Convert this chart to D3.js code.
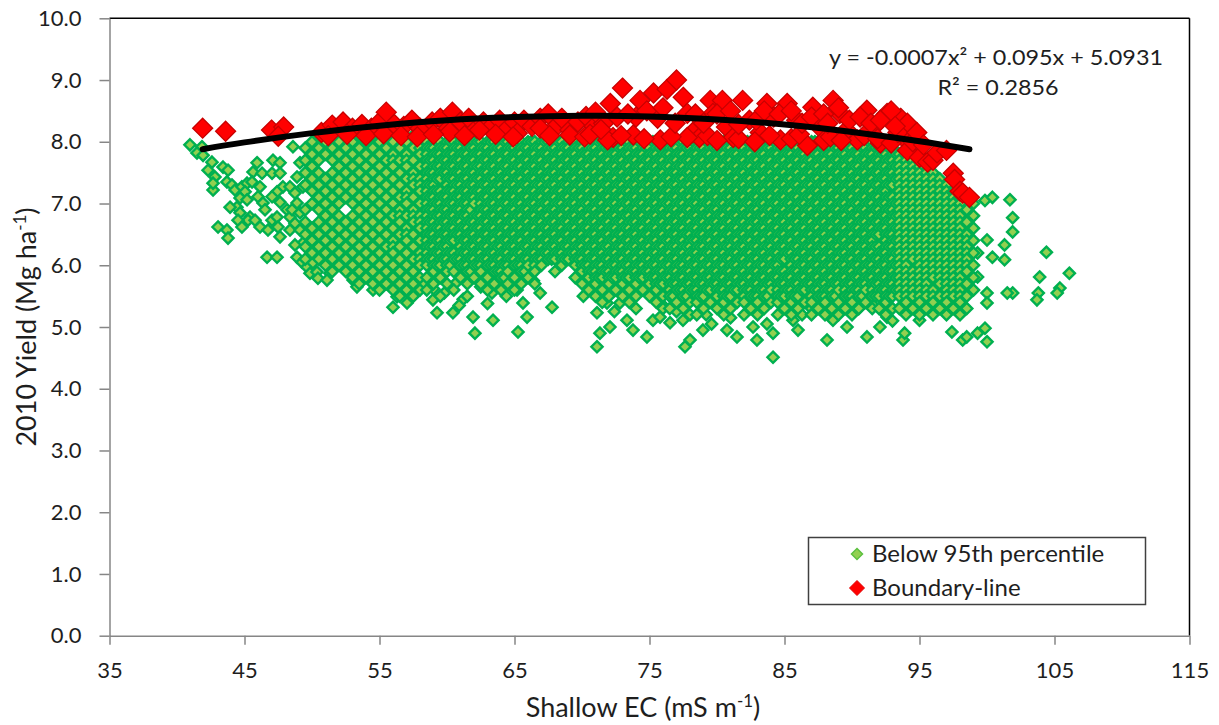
<!DOCTYPE html>
<html><head><meta charset="utf-8">
<script src="https://cdn.jsdelivr.net/npm/d3@7"></script>
<style>
body{margin:0;background:#fff}
svg{display:block}
text{font-family:Lato,"Open Sans",sans-serif;fill:#1e1e1e}
</style>
</head><body>
<svg id="chart" width="1219" height="725"></svg>
<script>
// ---------------- data ----------------
const xTicks = [35, 45, 55, 65, 75, 85, 95, 105, 115];
const yTicks = [0, 1, 2, 3, 4, 5, 6, 7, 8, 9, 10];

// "Below 95th percentile": isolated points [x, y]
const belowExtra = [
[40.96,7.95],[41.85,7.92],[41.48,7.82],[41.93,7.78],[42.59,7.67],[42.30,7.54],[42.81,7.43],[42.67,7.22],[42.67,7.33],[43.41,7.59],
[43.78,7.54],[43.70,7.35],[44.07,7.30],[44.30,7.22],[44.81,7.27],[45.19,7.33],[45.04,7.19],[44.67,7.09],[45.19,7.06],[44.44,6.94],
[43.93,6.94],[44.67,6.85],[45.41,6.78],[45.26,6.73],[44.52,6.73],[43.04,6.62],[43.70,6.57],[43.78,6.44],[44.81,6.62],[45.93,7.66],
[45.63,7.51],[46.30,7.49],[45.56,7.35],[46.15,7.27],[46.00,7.11],[46.37,7.01],[46.52,6.90],[45.78,6.73],[46.15,6.62],[46.74,6.57],
[47.04,6.73],[46.67,6.13],[47.41,6.13],[47.11,7.70],[47.63,7.66],[47.04,7.49],[47.63,7.49],[47.85,7.27],[47.41,7.19],[47.04,7.11],
[47.63,7.02],[48.15,6.90],[47.41,6.78],[48.37,6.78],[47.48,6.62],[48.37,6.57],[47.63,6.46],[48.59,7.92],[49.11,7.66],[48.89,7.43],
[48.37,7.27],[48.74,7.17],[49.33,7.27],[48.89,7.01],[48.52,6.90],[49.11,6.85],[48.74,6.68],[49.11,6.57],[49.63,6.46],[49.33,6.36],
[48.74,6.33],[48.89,6.13],[49.26,6.05],[49.63,5.97],[50.07,6.04],[49.85,5.87],[50.37,5.89],[50.44,5.79],[51.33,5.87],[51.11,5.76],
[53.04,5.76],[53.33,5.65],[54.52,5.60],[56.30,5.49],[57.04,5.39],[56.00,5.32],[58.96,5.44],[59.26,5.23],[60.44,5.23],[61.93,5.16],
[62.07,4.90],[63.33,5.55],[63.41,5.11],[65.19,5.60],[65.63,5.39],[65.93,5.16],[65.26,4.92],[67.78,5.32],[71.11,5.23],[71.33,4.90],
[71.11,4.68],[71.85,5.39],[72.81,5.39],[72.07,5.00],[73.33,5.11],[73.78,4.95],[74.81,4.84],[75.26,5.11],[75.78,5.16],
[76.52,5.07],[77.48,5.11],[78.00,4.79],[77.63,4.68],[78.96,4.95],[80.74,4.95],[81.48,4.84],[82.67,5.00],[82.96,4.79],[84.15,4.90],
[84.15,4.51],[85.63,5.11],[88.15,4.79],[88.59,5.11],[89.63,5.00],[91.11,4.84],[92.07,5.00],[92.59,5.16],[93.78,4.79],[93.55,5.32],
[93.90,4.90],[95.00,5.11],[96.00,5.32],[97.40,4.92],[98.20,4.79],[98.50,4.84],[99.30,4.90],[99.85,4.98],[100.00,4.76],
[58.30,5.70],[59.00,5.62],[59.80,5.55],[60.60,5.70],[61.20,5.45],[62.50,5.65],[63.00,5.38],[63.90,5.72],[64.40,5.50],[66.40,5.75],
[66.90,5.55],[60.90,5.35],[70.10,5.50],[72.40,5.25],[74.00,5.30],[76.00,5.35],[77.00,5.25],[79.20,5.20],[80.20,5.30],[81.00,5.15],
[83.00,5.25],[84.80,5.35],[86.30,5.20],[87.00,5.30],[89.00,5.20],[90.50,5.30],[91.60,5.35],[93.00,5.10],[86.00,4.95],[79.60,5.05],[83.70,5.05],
[99.85,7.05],[100.40,7.10],[101.70,7.06],[101.90,6.77],[101.90,6.54],[101.30,6.33],[101.30,6.09],[100.40,6.13],[100.00,6.41],[99.30,6.20],
[104.40,6.21],[103.90,5.81],[106.10,5.87],[105.40,5.63],[105.20,5.55],[103.80,5.55],[103.70,5.44],[101.90,5.55],[101.50,5.55],[100.00,5.55],
[100.00,5.39],[99.30,5.81]
];

// "Below 95th percentile": dense columns, "x|y values in tenths"
const belowColumns = [
"49.5|79 77 75 73 69 67 65 63 61",
"50|80 78 76 74 72 70 66 64 62",
"50.5|81 79 77 75 73 71 69 67 65 63 61",
"51|80 78 74 72 70 68 66 64 62 60",
"51.5|81 79 77 75 73 71 69 67 65 63 61 59",
"52|80 78 76 74 72 70 68 66 64 62 60",
"52.5|81 79 77 75 73 71 67 65 63 61 59",
"53|80 78 76 74 72 70 68 66 64 62 60 58",
"53.5|81 79 77 75 73 71 69 67 65 63 61 59 57",
"54|80 78 76 74 72 70 68 66 64 62 60 58",
"54.5|81 79 77 75 73 71 69 67 65 63 61 59 57",
"55|80 78 76 74 72 70 68 66 64 62 60 58 56",
"55.5|81 79 77 75 73 71 69 67 65 63 61 59 57",
"56|80 78 77 76 74 72 70 68 66 64 63 62 60 58 56",
"56.5|81 79 77 75 73 71 69 68 67 65 63 61 59 57 55",
"57|80 78 77 76 74 72 71 70 68 66 65 64 62 60 58 56",
"57.5|81 79 77 75 74 73 71 69 68 67 65 63 61 59 57 55",
"58|80 79 78 76 74 73 72 70 68 67 66 64 62 61 60 58 56",
"58.5|80 79 78 77 76 75 74 73 72 71 70 69 68 67 66 65 64 63 62 61 60 58 56",
"58.75|79 77 75 73 71 69 67 65 63 61",
"59|80 79 78 77 76 75 74 73 72 71 70 69 68 67 66 65 64 63 62 61 60 59 57",
"59.25|80 78 76 74 72 70 68 66 64 62 60",
"59.5|80 79 78 77 76 75 74 72 71 70 69 68 67 66 65 64 63 62 61 60 58 55",
"59.75|79 77 75 71 69 67 65 63 61",
"60|80 79 78 77 76 75 74 73 72 71 70 69 68 67 66 65 64 63 62 61 60 59 57",
"60.25|80 78 76 74 72 70 68 66 64 62 60",
"60.5|80 79 78 77 76 75 74 73 72 71 70 69 68 67 66 65 64 62 61 59 56",
"60.75|79 77 75 73 71 69 67 65 61",
"61|80 79 78 77 76 75 74 73 72 71 70 69 68 67 66 65 64 63 62 61 60 58",
"61.25|80 78 76 74 72 70 68 66 64 62 60",
"61.5|80 79 78 77 76 75 74 73 72 71 70 69 68 67 66 65 64 63 62 61 60 59 57 55",
"61.75|79 77 75 73 71 69 67 65 63 61 59",
"62|80 79 78 77 76 75 74 73 72 71 70 68 67 66 65 64 63 62 61 60 58",
"62.25|80 78 76 74 72 68 66 64 62 60",
"62.5|80 79 78 77 76 75 74 73 72 71 70 69 68 67 66 65 64 63 62 61 60 59 57",
"62.75|79 77 75 73 71 69 67 65 63 61",
"63|80 79 78 77 76 75 74 73 72 71 70 69 68 67 66 65 64 63 62 61 60 58 56",
"63.25|80 78 76 74 72 70 68 66 64 62 60",
"63.5|80 79 78 77 76 75 74 73 72 71 70 69 68 67 66 65 64 63 62 61 60 59 57",
"63.75|79 77 75 73 71 69 67 65 63 61 59",
"64|80 79 78 77 76 75 74 73 72 71 70 69 68 67 66 65 64 63 62 61 60 59 58 56",
"64.25|80 78 76 74 72 70 68 66 64 62 60 58",
"64.5|80 79 78 77 76 75 74 73 72 71 70 69 68 67 66 65 64 63 62 61 60 59 57",
"64.75|79 77 75 73 71 69 67 65 63 61",
"65|80 79 78 77 76 75 74 73 72 71 70 69 68 67 66 65 64 63 62 61 60 58 56",
"65.25|80 78 76 74 72 70 68 66 64 62 60",
"65.5|80 79 78 77 76 75 74 73 72 71 70 69 68 67 66 65 64 63 62 61 60 59 57",
"65.75|79 77 75 73 71 69 67 65 63 61 59",
"66|80 79 78 77 76 75 74 73 72 71 70 69 68 67 66 65 64 63 62 61 60 58",
"66.25|80 78 76 74 72 70 68 66 64 62",
"66.5|80 79 78 77 76 75 74 73 72 71 70 69 68 67 66 65 64 63 62 61 60 59 57",
"66.75|79 77 75 73 71 69 67 65 63 61",
"67|80 79 78 77 76 75 74 73 72 71 70 69 68 67 66 65 64 63 62 61 60",
"67.25|80 78 76 74 72 70 68 66 64 62",
"67.5|80 79 78 77 76 75 74 73 72 71 70 69 68 67 66 65 64 63 62 61",
"67.75|79 77 75 73 71 69 67 65 63 61",
"68|80 79 78 77 76 75 74 73 72 71 70 69 68 67 66 65 64 63 62 61 59",
"68.25|80 78 76 74 72 70 68 66 64 62",
"68.5|80 79 78 77 76 75 74 73 72 71 70 69 68 67 66 65 64 63 62 61 60",
"68.75|79 77 75 73 71 69 67 65 63 61",
"69|80 79 78 77 76 75 74 73 72 71 70 69 68 67 66 65 64 63 62 61",
"69.25|80 78 76 74 72 70 68 66 64 62",
"69.5|80 79 78 77 76 75 74 73 72 71 70 69 68 67 66 65 64 63 62 61 60 58",
"69.75|79 77 75 73 71 69 67 65 63 61",
"70|80 79 78 77 76 75 74 73 72 71 70 69 68 67 66 65 64 63 62 61 60 59 57",
"70.25|80 78 76 74 72 70 68 66 64 62 60",
"70.5|80 79 78 77 76 75 74 73 72 71 70 69 68 67 66 65 64 63 62 61 60 59 58 56",
"70.75|79 77 75 73 71 69 67 65 63 61 59",
"71|80 79 78 77 76 75 74 73 72 71 70 69 68 67 66 65 64 63 62 61 60 59 58 57 55",
"71.25|80 78 76 74 72 70 68 66 64 62 60 58",
"71.5|80 79 78 77 76 75 74 73 72 71 70 69 68 67 66 65 64 63 62 61 60 59 58 56 54",
"71.75|79 77 75 73 71 69 67 65 63 61 59",
"72|80 79 78 77 76 75 74 73 72 71 70 69 68 67 66 65 64 63 62 61 60 59 58 57 55",
"72.25|80 78 76 74 72 70 68 66 64 62 60 58",
"72.5|80 79 78 77 76 75 74 73 72 71 70 69 68 67 66 65 64 63 62 61 60 59 58 56",
"72.75|79 77 75 73 71 69 67 65 63 61 59",
"73|80 79 78 77 76 75 74 73 72 71 70 69 68 67 66 65 64 63 62 61 60 59 58 57 55",
"73.25|80 78 76 74 72 70 68 66 64 62 60 58",
"73.5|80 79 78 77 76 75 74 73 72 71 70 69 68 67 66 65 64 63 62 61 60 59 58 56 54",
"73.75|79 77 75 73 71 69 67 65 63 61 59",
"74|80 79 78 77 76 75 74 73 72 71 70 69 68 67 66 65 64 63 62 61 60 59 58 57 55",
"74.25|80 78 76 74 72 70 68 66 64 62 60 58",
"74.5|80 79 78 77 76 75 74 73 72 71 70 69 68 67 66 65 64 63 62 61 60 59 58 56",
"74.75|79 77 75 73 71 69 67 65 63 61 59",
"75|80 79 78 77 76 75 74 73 72 71 70 69 68 67 66 65 64 63 62 61 60 59 58 57 55",
"75.25|80 78 76 74 72 70 68 66 64 62 60 58",
"75.5|80 79 78 77 76 75 74 73 72 71 70 69 68 67 66 65 64 63 62 61 60 59 58 57 56 54",
"75.75|79 77 75 73 71 69 67 65 63 61 59 57",
"76|80 79 78 77 76 75 74 73 72 71 70 69 68 67 66 65 64 63 62 61 60 59 58 57 55 53",
"76.25|80 78 76 74 72 70 68 66 64 62 60 58",
"76.5|80 79 78 77 76 75 74 73 72 71 70 69 68 67 66 65 64 63 62 61 60 59 58 57 56 55 53",
"76.75|79 77 75 73 71 69 67 65 63 61 59 57 55",
"77|80 79 78 77 76 75 74 73 72 71 70 69 68 67 66 65 64 63 62 61 60 59 58 57 56 54",
"77.25|80 78 76 74 72 70 68 66 64 62 60 58 56",
"77.5|80 79 78 77 76 75 74 73 72 71 70 69 68 67 66 65 64 63 62 61 60 59 58 57 56 55 53",
"77.75|79 77 75 73 71 69 67 65 63 61 59 57 55",
"78|80 79 78 77 76 75 74 73 72 71 70 69 68 67 66 65 64 63 62 61 60 59 58 57 56 54 52",
"78.25|80 78 76 74 72 70 68 66 64 62 60 58 56",
"78.5|80 79 78 77 76 75 74 73 72 71 70 69 68 67 66 65 64 63 62 61 60 59 58 57 56 55 54 52",
"78.75|79 77 75 73 71 69 67 65 63 61 59 57 55",
"79|80 79 78 77 76 75 74 73 72 71 70 69 68 67 66 65 64 63 62 61 60 59 58 57 56 55 53",
"79.25|80 78 76 74 72 70 68 66 64 62 60 58 56",
"79.5|80 79 78 77 76 75 74 73 72 71 70 69 68 67 66 65 64 63 62 61 60 59 58 57 56 54",
"79.75|79 77 75 73 71 69 67 65 63 61 59 57",
"80|80 79 78 77 76 75 74 73 72 71 70 69 68 67 66 65 64 63 62 61 60 59 58 57 56 55 53",
"80.25|80 78 76 74 72 70 68 66 64 62 60 58 56",
"80.5|80 79 78 77 76 75 74 73 72 71 70 69 68 67 66 65 64 63 62 61 60 59 58 57 56 55 54 52",
"80.75|79 77 75 73 71 69 67 65 63 61 59 57 55",
"81|80 79 78 77 76 75 74 73 72 71 70 69 68 67 66 65 64 63 62 61 60 59 58 57 56 55 53",
"81.25|80 78 76 74 72 70 68 66 64 62 60 58 56",
"81.5|80 79 78 77 76 75 74 73 72 71 70 69 68 67 66 65 64 63 62 61 60 59 58 57 56 54",
"81.75|79 77 75 73 71 69 67 65 63 61 59 57",
"82|80 79 78 77 76 75 74 73 72 71 70 69 68 67 66 65 64 63 62 61 60 59 58 57 56 55 54 52",
"82.25|80 78 76 74 72 70 68 66 64 62 60 58 56",
"82.5|80 79 78 77 76 75 74 73 72 71 70 69 68 67 66 65 64 63 62 61 60 59 58 57 56 55 53",
"82.75|79 77 75 73 71 69 67 65 63 61 59 57 55",
"83|80 79 78 77 76 75 74 73 72 71 70 69 68 67 66 65 64 63 62 61 60 59 58 57 56 55 54 52",
"83.25|80 78 76 74 72 70 68 66 64 62 60 58 56",
"83.5|80 79 78 77 76 75 74 73 72 71 70 69 68 67 66 65 64 63 62 61 60 59 58 57 56 55 53",
"83.75|79 77 75 73 71 69 67 65 63 61 59 57 55",
"84|80 79 78 77 76 75 74 73 72 71 70 69 68 67 66 65 64 63 62 61 60 59 58 57 56 54",
"84.25|80 78 76 74 72 70 68 66 64 62 60 58",
"84.5|80 79 78 77 76 75 74 73 72 71 70 69 68 67 66 65 64 63 62 61 60 59 58 57 56 55 54 52",
"84.75|79 77 75 73 71 69 67 65 63 61 59 57 55",
"85|80 79 78 77 76 75 74 73 72 71 70 69 68 67 66 65 64 63 62 61 59 58 57 56 55 53",
"85.25|80 78 76 74 72 70 68 66 64 62 58 56",
"85.5|80 79 78 77 76 75 74 73 72 71 70 69 68 67 66 65 64 63 62 61 60 59 58 57 56 55 54 52",
"85.75|79 77 75 73 71 69 67 65 63 61 59 57 55",
"86|80 79 78 77 76 75 74 73 72 71 70 69 68 67 66 65 64 63 62 61 60 59 58 57 56 55 53",
"86.25|80 78 76 74 72 70 68 66 64 62 60 58 56",
"86.5|80 79 78 77 76 75 74 73 72 71 70 69 68 67 66 65 64 63 62 61 60 59 58 57 56 54",
"86.75|79 77 75 73 71 69 67 65 63 61 59 57",
"87|80 79 78 77 76 75 74 73 72 71 70 69 68 67 66 65 64 63 62 61 60 59 58 57 56 55 54 52",
"87.25|80 78 76 74 72 70 68 66 64 62 60 58 56",
"87.5|80 79 78 77 76 75 74 73 72 71 70 69 68 67 66 65 64 63 62 61 60 59 58 57 56 55 53",
"87.75|79 77 75 73 71 69 67 65 63 61 59 57 55",
"88|80 79 78 77 76 75 74 73 72 71 70 69 68 67 66 65 64 63 62 61 60 59 58 57 56 55 54 52",
"88.25|80 78 76 74 72 70 68 66 64 62 60 58 56",
"88.5|80 79 78 77 76 75 74 73 72 71 70 69 68 67 66 65 64 63 62 61 60 59 58 57 56 55 53",
"88.75|79 77 75 73 71 69 67 65 63 61 59 57 55",
"89|80 79 78 77 76 75 74 73 72 71 70 69 68 67 66 65 64 63 62 61 60 59 58 57 56 54",
"89.25|80 78 76 74 72 70 68 66 64 62 60 58",
"89.5|80 79 78 77 76 75 74 73 72 71 70 69 68 67 66 65 64 63 62 61 60 59 58 57 56 55 53",
"89.75|79 77 75 73 71 69 67 65 63 61 59 57 55",
"90|80 79 78 77 76 75 74 73 72 71 70 69 68 67 66 65 64 63 62 61 60 59 58 57 56 55 54 52",
"90.25|80 78 76 74 72 70 68 66 64 62 60 58 56",
"90.5|80 79 78 77 76 75 74 73 72 71 70 69 68 67 66 65 64 63 62 61 60 59 58 57 56 55 53",
"90.75|79 77 75 73 71 69 67 65 63 61 59 57 55",
"91|80 79 78 77 76 75 74 73 72 71 70 69 68 67 66 65 64 63 62 61 60 59 58 57 56 54",
"91.25|80 78 76 74 72 70 68 66 64 62 60 58",
"91.5|80 79 78 77 76 75 74 73 72 71 70 69 68 67 66 65 64 63 62 61 60 59 58 57 56 55 53",
"91.75|79 77 75 73 71 69 67 65 63 61 59 57 55",
"92|80 79 78 77 76 75 74 73 72 71 70 69 68 67 66 65 63 62 61 60 59 58 57 56 55 53",
"92.25|80 78 76 74 72 70 68 66 62 60 58 56",
"92.5|80 79 78 77 76 75 74 73 72 71 70 69 68 67 66 65 64 63 62 61 60 59 58 57 56 55 54 52",
"92.75|79 77 75 73 71 69 67 65 63 61 59 57 55",
"93|79 78 77 76 75 74 73 71 70 69 68 67 66 65 64 63 62 61 60 59 58 57 56 55 53",
"93.25|78 76 74 70 68 66 64 62 60 58 56",
"93.5|78 77 76 75 74 73 72 71 70 69 68 67 66 65 64 63 62 61 60 59 58 57 56 55 53",
"94|77 76 75 74 73 72 71 70 69 68 67 66 65 64 63 62 61 60 59 58 57 56 55 54 52",
"94.5|77 76 75 74 73 72 71 70 69 68 67 66 65 64 63 62 61 59 58 57 56 55 53",
"95|76 75 74 73 72 71 70 69 68 67 66 65 64 63 62 61 60 59 58 57 56 55 54 52",
"95.5|75 74 73 72 71 70 69 68 67 66 65 64 63 62 61 60 59 58 57 56 55 53",
"96|75 74 73 72 71 70 69 68 67 66 65 64 63 62 61 60 59 58 56 55 54 52",
"96.5|74 73 72 71 70 69 68 67 66 65 64 63 62 61 60 59 58 57 55 53",
"97|73 72 71 70 69 68 67 66 65 64 63 62 61 60 59 58 57 56 55 54 52",
"97.5|72 71 70 69 68 67 66 65 64 63 62 61 60 59 58 57 56 55 53",
"98|71 70 69 68 67 66 65 64 63 62 61 60 59 58 57 56 55 54 52",
"98.5|71 69 67 65 64 63 62 61 60 59 57 55 53",
"99|70 68 66 64 62 60 58 56"
];

// "Boundary-line" points [x, y]
const boundaryPoints = [
[41.9,8.22],[43.6,8.17],[47.0,8.19],[47.9,8.24],[47.5,8.09],[50.7,8.15],[51.5,8.27],[52.3,8.32],[53.0,8.22],[53.7,8.28],
[54.4,8.22],[55.0,8.32],[55.5,8.48],[56.1,8.28],[56.8,8.25],[57.4,8.35],[58.0,8.22],[58.9,8.32],[59.5,8.38],[60.1,8.22],
[60.4,8.48],[61.0,8.32],[61.6,8.38],[62.2,8.22],[62.7,8.32],[63.3,8.25],[63.9,8.35],[64.5,8.22],[65.0,8.32],[65.7,8.35],
[66.3,8.25],[66.9,8.38],[67.5,8.45],[68.1,8.25],[68.5,8.38],[69.1,8.19],[69.7,8.32],[70.3,8.41],[70.9,8.25],[71.6,8.30],
[72.3,8.07],[72.1,8.62],[73.0,8.87],[74.3,8.67],[75.3,8.79],[75.6,8.38],[76.3,8.85],[77.0,9.00],[77.5,8.72],[77.8,8.46],
[78.2,8.15],[78.7,8.07],[79.5,8.67],[79.7,8.46],[80.4,8.67],[80.7,8.24],[81.2,8.07],[81.9,8.67],[82.4,8.35],[83.2,8.15],
[83.7,8.62],[84.2,8.40],[84.7,8.03],[85.2,8.62],[85.9,8.35],[86.7,7.94],[87.1,8.56],[87.6,8.24],[88.6,8.67],[89.1,8.46],
[89.6,8.19],[90.4,8.03],[91.1,8.51],[91.6,8.24],[92.1,7.98],[92.6,8.46],[93.6,8.38],[93.8,8.07],[94.1,8.30],[94.1,7.86],
[95.0,7.75],[95.6,7.67],[96.0,7.70],[96.3,7.82],[97.0,7.86],[97.5,7.49],[97.6,7.39],[98.0,7.20],[98.2,7.17],[98.7,7.10],
[60.2,8.16],[62.4,8.19],[65.2,8.14],[66.9,8.22],[69.1,8.11],[71.9,8.03],[73.8,8.11],[75.8,8.03],[77.8,8.07],
[51.2,8.10],[52.6,8.12],[54.0,8.10],[55.3,8.13],[56.6,8.10],[57.8,8.08],[59.0,8.12],[61.3,8.10],[63.6,8.12],[64.9,8.08],
[67.6,8.10],[70.2,8.08],[70.6,8.12],[72.9,8.10],[74.6,8.05],[76.6,8.08],[79.3,8.10],[80.0,8.02],[81.6,8.05],[82.8,8.00],
[83.9,8.10],[85.5,8.05],[86.1,8.12],[87.9,8.02],[88.4,8.08],[89.2,8.02],[90.9,8.10],[91.9,8.05],[92.9,7.98],[93.4,8.15],
[74.0,8.40],[74.8,8.50],[76.0,8.55],[76.9,8.30],[78.4,8.45],[79.0,8.30],[80.0,8.45],[81.0,8.50],[81.6,8.28],[82.9,8.35],
[83.5,8.50],[84.6,8.45],[85.5,8.50],[86.3,8.30],[87.0,8.40],[87.9,8.45],[88.2,8.30],[89.0,8.55],[89.8,8.35],[90.6,8.40],
[91.4,8.30],[92.1,8.35],[92.9,8.50],[93.2,8.25],[94.5,8.00],[94.8,8.15],[95.3,7.95],[71.0,8.48],[72.6,8.40],[73.4,8.45],[71.4,8.20]
];

// polynomial trendline
const trendX = [41.9, 45, 50, 55, 60, 65, 70, 75, 80, 85, 90, 95, 98.7];
const trendY = [7.88, 7.99, 8.14, 8.26, 8.35, 8.40, 8.42, 8.41, 8.36, 8.28, 8.16, 8.01, 7.88];

const xTitle = "Shallow EC (mS m";
const yTitle = "2010 Yield (Mg ha";
const equationText = "y = -0.0007x² + 0.095x + 5.0931";
const r2Text = "R² = 0.2856";
const seriesNames = ["Below 95th percentile", "Boundary-line"];

// ---------------- build ----------------
const below = belowExtra.slice();
belowColumns.forEach(s => {
  const [xs, ys] = s.split("|");
  ys.trim().split(/\s+/).forEach(t => below.push([+xs, +t / 10]));
});
const trend = trendX.map((v, i) => [v, trendY[i]]);

const svg = d3.select("#chart");
const L = 109.5, R = 1189.5, T = 18.3, B = 635.7;
const x = d3.scaleLinear().domain([35, 115]).range([L, R]);
const y = d3.scaleLinear().domain([0, 10]).range([B, T]);
const FONT = "Lato, 'Open Sans', sans-serif";
const axisCol = "#868686";

// plot frame (top/right)
svg.append("line").attr("x1", L).attr("x2", R).attr("y1", T).attr("y2", T).attr("stroke", "#000").attr("stroke-width", 1.5);
svg.append("line").attr("x1", R).attr("x2", R).attr("y1", T).attr("y2", B).attr("stroke", "#000").attr("stroke-width", 1.5);

// axes
const gx = svg.append("g").attr("transform", `translate(0,${B})`)
  .call(d3.axisBottom(x).tickValues(xTicks).tickSize(9).tickSizeOuter(0).tickPadding(18).tickFormat(d3.format("d")));
const gy = svg.append("g").attr("transform", `translate(${L},0)`)
  .call(d3.axisLeft(y).tickValues(yTicks).tickSize(10).tickSizeOuter(0).tickPadding(18).tickFormat(d3.format(".1f")));
[gx, gy].forEach(g => {
  g.attr("font-family", FONT).attr("font-size", 22);
  g.select(".domain").attr("stroke", axisCol).attr("stroke-width", 1.5);
  g.selectAll(".tick line").attr("stroke", axisCol).attr("stroke-width", 1.5);
  g.selectAll(".tick text").attr("fill", "#1e1e1e");
});

// markers
const gD = s => `M0,${-s}L${s},0L0,${s}L${-s},0Z`;
svg.append("g").selectAll("path").data(below).join("path")
  .attr("d", gD(5.6))
  .attr("transform", d => `translate(${x(d[0]).toFixed(2)},${y(d[1]).toFixed(2)})`)
  .attr("fill", "#92d050").attr("stroke", "#00b050").attr("stroke-width", 2.4);

svg.append("g").selectAll("path").data(boundaryPoints).join("path")
  .attr("d", gD(10))
  .attr("transform", d => `translate(${x(d[0]).toFixed(2)},${y(d[1]).toFixed(2)})`)
  .attr("fill", "#ff0000").attr("stroke", "#c80000").attr("stroke-width", 1.3);

// trendline
svg.append("path").datum(trend)
  .attr("d", d3.line().x(d => x(d[0])).y(d => y(d[1])).curve(d3.curveNatural))
  .attr("fill", "none").attr("stroke", "#000").attr("stroke-width", 6).attr("stroke-linecap", "round");

// equation
svg.append("text").attr("x", 996).attr("y", 65).attr("text-anchor", "middle")
  .attr("font-size", 22).attr("textLength", 334).attr("lengthAdjust", "spacingAndGlyphs").text(equationText);
svg.append("text").attr("x", 998).attr("y", 95).attr("text-anchor", "middle")
  .attr("font-size", 22).attr("textLength", 121).attr("lengthAdjust", "spacingAndGlyphs").text(r2Text);

// axis titles
const xt = svg.append("text").attr("x", 643).attr("y", 717).attr("text-anchor", "middle").attr("font-size", 27);
xt.append("tspan").text(xTitle);
xt.append("tspan").attr("dy", -10).attr("font-size", 17).text("-1");
xt.append("tspan").attr("dy", 10).text(")");

const yt = svg.append("text").attr("transform", "translate(36,327) rotate(-90)").attr("text-anchor", "middle").attr("font-size", 27);
yt.append("tspan").text(yTitle);
yt.append("tspan").attr("dy", -10).attr("font-size", 17).text("-1");
yt.append("tspan").attr("dy", 10).text(")");

// legend
const lg = svg.append("g");
lg.append("rect").attr("x", 808.5).attr("y", 537.5).attr("width", 337).attr("height", 67)
  .attr("fill", "#fff").attr("stroke", "#404040").attr("stroke-width", 1.5);
lg.append("path").attr("d", gD(5.5)).attr("transform", "translate(857,554)")
  .attr("fill", "#92d050").attr("stroke", "#5cc040").attr("stroke-width", 1.5);
lg.append("path").attr("d", gD(7.5)).attr("transform", "translate(857,588)")
  .attr("fill", "#ff0000").attr("stroke", "#e00000").attr("stroke-width", 1);
lg.append("text").attr("x", 872).attr("y", 562).attr("font-size", 24).text(seriesNames[0]);
lg.append("text").attr("x", 872).attr("y", 596).attr("font-size", 24).text(seriesNames[1]);
</script>
</body></html>
